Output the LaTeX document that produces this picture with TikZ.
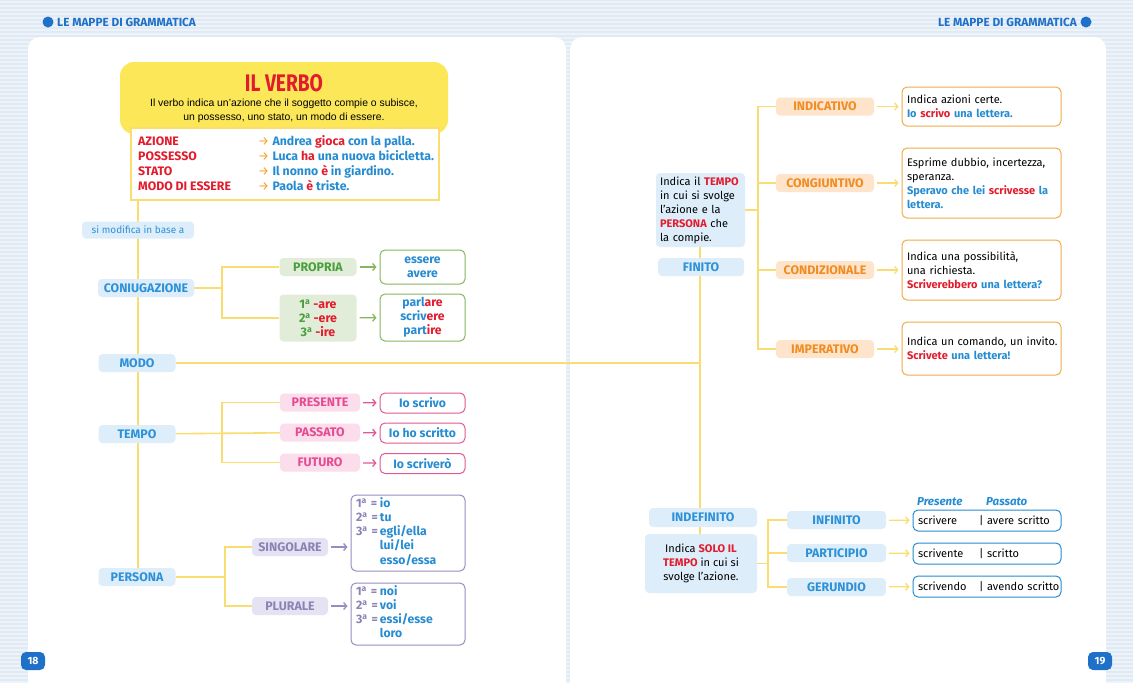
\documentclass[tikz,border=0pt]{standalone}
\usepackage{fontspec}
\setmainfont{Fira Sans}
\newfontfamily\arialf{Liberation Sans}
\usetikzlibrary{arrows.meta}
\definecolor{pageBg}{RGB}{224,234,245}
\definecolor{headB}{RGB}{30,112,200}
\definecolor{lineY}{RGB}{250,221,112}
\definecolor{titleY}{RGB}{252,231,88}
\definecolor{vred}{RGB}{226,28,45}
\definecolor{exB}{RGB}{38,140,210}
\definecolor{catF}{RGB}{221,238,250}
\definecolor{catT}{RGB}{45,145,215}
\definecolor{grT}{RGB}{72,160,60}
\definecolor{grF}{RGB}{226,237,217}
\definecolor{grD}{RGB}{135,182,95}
\definecolor{pkT}{RGB}{230,75,145}
\definecolor{pkF}{RGB}{251,221,235}
\definecolor{pkD}{RGB}{225,88,150}
\definecolor{puT}{RGB}{140,130,182}
\definecolor{puF}{RGB}{229,227,243}
\definecolor{puD}{RGB}{150,140,195}
\definecolor{orT}{RGB}{240,140,35}
\definecolor{orF}{RGB}{253,228,202}
\definecolor{orD}{RGB}{242,170,72}
\definecolor{arrO}{RGB}{245,160,40}
\pgfdeclarelayer{pages}
\pgfdeclarelayer{lines}
\pgfsetlayers{pages,lines,main}
\newcommand\rd[1]{{\color{vred}\bfseries #1}}
\newcommand\bl[1]{{\color{exB}\bfseries #1}}
\newcommand\pn[1]{{\color{puT}\bfseries #1}}
\newcommand\ord[1]{#1\textsuperscript{a}}
\begin{document}
\begin{tikzpicture}[x=1pt,y=-1pt,
  every node/.style={inner sep=0pt,font=\fontsize{11}{14}\selectfont},
  conn/.style={draw=lineY,line width=1.6pt},
  cat/.style={fill=catF,text=catT,rounded corners=4pt,minimum height=18pt,
    font=\fontsize{12.4}{14}\selectfont\bfseries},
  greenbox/.style={cat,fill=grF,text=grT},
  pinkbox/.style={cat,fill=pkF,text=pkT},
  purplebox/.style={cat,fill=puF,text=puT},
  orangebox/.style={cat,fill=orF,text=orT,minimum width=98pt},
  exbox/.style={fill=white,draw=#1,line width=1pt,rounded corners=5pt,
    text=exB,font=\fontsize{12.2}{14}\selectfont\bfseries},
  leftex/.style={exbox=#1,align=left,inner xsep=5pt,text=black,
    font=\fontsize{11}{14}\selectfont},
  pointer/.style={draw=#1,line width=1.3pt,
    -{Straight Barb[length=3pt,width=7pt]},shorten <=3pt,shorten >=3pt}]
\useasboundingbox (0,0) rectangle (1133,683);
\begin{pgfonlayer}{pages}
\fill[pageBg] (0,0) rectangle (1133,683);
\foreach \yy in {2,6,...,682}
  \draw[white,opacity=0.45,line width=1.3pt] (0,\yy) -- (1133,\yy);
\fill[white,rounded corners=12pt] (28,37) rectangle (566,700);
\fill[white,rounded corners=12pt] (570,37) rectangle (1106,700);
\end{pgfonlayer}

\fill[headB] (48,22) circle (5.5pt);
\node[anchor=west,text=headB,font=\fontsize{11.8}{12}\selectfont\bfseries] (headL) at (57,22.5) {LE MAPPE DI GRAMMATICA};
\fill[headB] (1086,22) circle (5.5pt);
\node[anchor=east,text=headB,font=\fontsize{11.8}{12}\selectfont\bfseries] (headR) at (1077,22.5) {LE MAPPE DI GRAMMATICA};
\node[fill=headB,text=white,rounded corners=5pt,minimum width=24pt,minimum height=18pt,font=\fontsize{10.5}{12}\selectfont\bfseries] (pag18) at (33,661) {18};
\node[fill=headB,text=white,rounded corners=5pt,minimum width=24pt,minimum height=18pt,font=\fontsize{10.5}{12}\selectfont\bfseries] (pag19) at (1100,661) {19};

\node[fill=titleY,rounded corners=14pt,minimum width=328pt,minimum height=72pt] (verbo) at (284,98) {};
\node[text=vred,font=\fontsize{24}{26}\selectfont\bfseries] (vtitle) at (284,83) {\scalebox{0.8}[1]{IL VERBO}};
\node[align=center,font=\arialf\fontsize{10.4}{14}\selectfont] (vsub) at (284,111) {Il verbo indica un’azione che il soggetto compie o subisce,\\un possesso, uno stato, un modo di essere.};
\node[fill=white,draw=lineY,line width=1.8pt,minimum width=308pt,minimum height=72pt,anchor=north west] (vex) at (130,127) {};
\node[anchor=west,font=\fontsize{12.3}{15}\selectfont] (vrows) at (138,164.5) {\begin{tabular}{@{}l@{}l@{}}
\makebox[120pt][l]{\rd{AZIONE}} & {\color{arrO}→} \bl{Andrea \rd{gioca} con la palla.}\\
\makebox[120pt][l]{\rd{POSSESSO}} & {\color{arrO}→} \bl{Luca \rd{ha} una nuova bicicletta.}\\
\makebox[120pt][l]{\rd{STATO}} & {\color{arrO}→} \bl{Il nonno \rd{è} in giardino.}\\
\makebox[120pt][l]{\rd{MODO DI ESSERE}} & {\color{arrO}→} \bl{Paola \rd{è} triste.}
\end{tabular}};

\node[cat,minimum width=112pt,minimum height=17pt,font=\fontsize{10}{12}\selectfont] (simod) at (138,230) {si modifica in base a};
\node[cat,minimum width=96pt] (coniug) at (146,288) {CONIUGAZIONE};
\node[cat,minimum width=77pt] (modo) at (137,363) {MODO};
\node[cat,minimum width=77pt] (tempo) at (137,434) {TEMPO};
\node[cat,minimum width=77pt] (persona) at (137,577) {PERSONA};

\node[greenbox,minimum width=77pt] (propria) at (318,267) {PROPRIA};
\node[greenbox,minimum width=77pt,minimum height=47pt,align=center] (desin) at (318,318) {\ord{1} \rd{-are}\\\ord{2} \rd{-ere}\\\ord{3} \rd{-ire}};
\node[exbox=grD,minimum width=85pt,minimum height=34pt,align=center] (essav) at (422.5,267) {essere\\avere};
\node[exbox=grD,minimum width=85pt,minimum height=47pt,align=center] (parl) at (422.5,317.5) {parl\rd{are}\\scriv\rd{ere}\\part\rd{ire}};

\node[pinkbox,minimum width=80pt] (presente) at (320,402.5) {PRESENTE};
\node[pinkbox,minimum width=80pt] (passato) at (320,432.5) {PASSATO};
\node[pinkbox,minimum width=80pt] (futuro) at (320,462.5) {FUTURO};
\node[exbox=pkD,minimum width=85pt,minimum height=20pt] (presex) at (422.5,403) {Io scrivo};
\node[exbox=pkD,minimum width=85pt,minimum height=20pt] (passex) at (422.5,433) {Io ho scritto};
\node[exbox=pkD,minimum width=85pt,minimum height=20pt] (futex) at (422.5,463.5) {Io scriverò};

\node[purplebox,minimum width=76pt] (sing) at (290,547) {SINGOLARE};
\node[purplebox,minimum width=76pt] (plur) at (290,606) {PLURALE};
\node[exbox=puD,minimum width=114pt,minimum height=76pt,text width=104pt,align=left,inner xsep=5pt] (singex) at (408,533) {\begin{tabular}{@{}l@{\,}l@{}}
\pn{\ord{1} =} & io\\ \pn{\ord{2} =} & tu\\ \pn{\ord{3} =} & egli/ella\\ & lui/lei\\ & esso/essa\end{tabular}};
\node[exbox=puD,minimum width=114pt,minimum height=62pt,text width=104pt,align=left,inner xsep=5pt] (plurex) at (408,614) {\begin{tabular}{@{}l@{\,}l@{}}
\pn{\ord{1} =} & noi\\ \pn{\ord{2} =} & voi\\ \pn{\ord{3} =} & essi/esse\\ & loro\end{tabular}};

\node[fill=catF,rounded corners=4pt,minimum width=89pt,minimum height=74pt,text width=81pt,align=left,inner xsep=4pt] (fintxt) at (700.5,210) {Indica il \rd{TEMPO}\\in cui si svolge\\l’azione e la\\\rd{PERSONA} che\\la compie.};
\node[cat,minimum width=86pt] (finito) at (701,267) {FINITO};
\node[orangebox] (indic) at (825,106.5) {INDICATIVO};
\node[orangebox] (congi) at (825,183) {CONGIUNTIVO};
\node[orangebox] (condiz) at (825,270) {CONDIZIONALE};
\node[orangebox] (imper) at (825,349) {IMPERATIVO};
\node[leftex=orD,minimum width=159pt,minimum height=39pt,text width=149pt] (indicex) at (981.5,106.5) {Indica azioni certe.\\\bl{Io \rd{scrivo} una lettera.}};
\node[leftex=orD,minimum width=159pt,minimum height=70pt,text width=149pt] (congiex) at (981.5,183) {Esprime dubbio, incertezza,\\speranza.\\\bl{Speravo che lei \rd{scrivesse} la}\\\bl{lettera.}};
\node[leftex=orD,minimum width=159pt,minimum height=60pt,text width=149pt] (condizex) at (981.5,270) {Indica una possibilità,\\una richiesta.\\\rd{Scriverebbero} \bl{una lettera?}};
\node[leftex=orD,minimum width=159pt,minimum height=53pt,text width=149pt] (imperex) at (981.5,348.5) {\mbox{Indica un comando, un invito.}\\\rd{Scrivete} \bl{una lettera!}};

\node[cat,minimum width=108pt,minimum height=19pt] (indef) at (703,517.5) {INDEFINITO};
\node[fill=catF,rounded corners=4pt,minimum width=112pt,minimum height=59pt,align=center] (indtxt) at (701,563.5) {Indica \rd{SOLO IL}\\\rd{TEMPO} in cui si\\svolge l’azione.};
\node[cat,minimum width=99pt] (infin) at (836.5,520) {INFINITO};
\node[cat,minimum width=99pt] (partic) at (836.5,553) {PARTICIPIO};
\node[cat,minimum width=99pt] (gerund) at (836.5,587) {GERUNDIO};
\node[leftex=exB,minimum width=148pt,minimum height=21pt,text width=138pt] (infinex) at (987,520.5) {\mbox{\makebox[61pt][l]{scrivere}| avere scritto}};
\node[leftex=exB,minimum width=148pt,minimum height=21pt,text width=138pt] (particex) at (987,553.5) {\mbox{\makebox[61pt][l]{scrivente}| scritto}};
\node[leftex=exB,minimum width=148pt,minimum height=21pt,text width=138pt] (gerundex) at (987,586.5) {\mbox{\makebox[61pt][l]{scrivendo}| avendo scritto}};
\node[anchor=west,text=exB,font=\fontsize{11.5}{14}\selectfont\bfseries\itshape] (presLab) at (917,502) {Presente};
\node[anchor=west,text=exB,font=\fontsize{11.5}{14}\selectfont\bfseries\itshape] (passLab) at (986,502) {Passato};

\begin{pgfonlayer}{lines}
\coordinate (trunkTop) at (138,200);
\draw[conn] (trunkTop) -- (trunkTop |- persona.center);
\coordinate (cj) at (222,288);
\draw[conn] (coniug) -- (cj);
\draw[conn] (propria) -| (cj) |- (desin);
\coordinate (tb) at (222,434);
\draw[conn] (tempo) -- (passato);
\draw[conn] (presente) -| (tb) |- (futuro);
\coordinate (pb) at (225,577);
\draw[conn] (persona) -- (pb);
\draw[conn] (sing) -| (pb) |- (plur);
\coordinate (ftop) at (700,247);
\draw[conn] (ftop) -- (ftop |- indtxt.north);
\draw[conn] (modo) -- (modo -| ftop);
\coordinate (rb) at (758,210);
\draw[conn] (fintxt) -- (rb);
\draw[conn] (indic) -| (rb) |- (imper);
\draw[conn] (congi) -- (congi -| rb);
\draw[conn] (condiz) -- (condiz -| rb);
\coordinate (ib) at (768,563.5);
\draw[conn] (indtxt) -- (ib);
\draw[conn] (infin) -| (ib) |- (gerund);
\draw[conn] (partic) -- (partic -| ib);
\end{pgfonlayer}

\draw[pointer=grD] (propria) -- (essav);
\draw[pointer=grD] (desin) -- (parl);
\draw[pointer=pkD] (presente) -- (presex);
\draw[pointer=pkD] (passato) -- (passex);
\draw[pointer=pkD] (futuro) -- (futex);
\draw[pointer=puD] (sing) -- (sing -| singex.west);
\draw[pointer=puD] (plur) -- (plur -| plurex.west);
\draw[pointer=lineY] (indic) -- (indicex);
\draw[pointer=lineY] (congi) -- (congiex);
\draw[pointer=lineY] (condiz) -- (condizex);
\draw[pointer=lineY] (imper) -- (imper -| imperex.west);
\draw[pointer=lineY] (infin) -- (infinex);
\draw[pointer=lineY] (partic) -- (particex);
\draw[pointer=lineY] (gerund) -- (gerundex);
\end{tikzpicture}
\end{document}
